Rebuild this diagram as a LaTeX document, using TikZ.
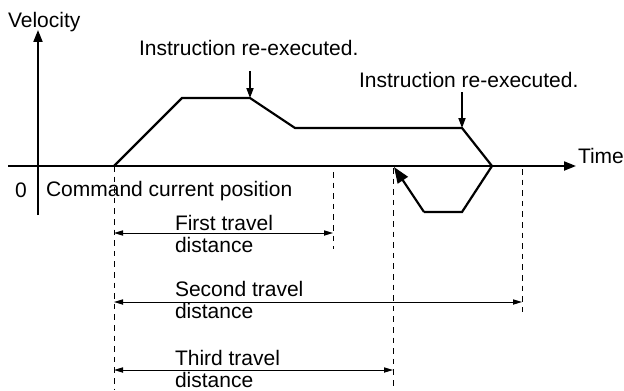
\documentclass[tikz,border=0pt]{standalone}
\usepackage{fontspec}
\setmainfont{Liberation Sans}
\usetikzlibrary{arrows.meta}
\begin{document}
\begin{tikzpicture}[x=0.5pt,y=-0.5pt,
  lbl/.style={inner sep=0pt,outer sep=0pt,anchor=base west,align=left,
    font=\fontsize{10.5}{10.65}\selectfont},
  axis/.style={line width=1pt,-{Triangle[length=6pt,width=4.5pt]}},
  curve/.style={line width=1.1pt,line join=miter},
  guide/.style={line width=0.5pt,dash pattern=on 2.8pt off 2.5pt},
  dim/.style={line width=0.5pt,{Triangle[length=4.5pt,width=2.6pt]}-{Triangle[length=4.5pt,width=2.6pt]}},
  insarrow/.style={line width=0.6pt,-{Triangle[length=5pt,width=3.6pt]}}]
\useasboundingbox (0,0) rectangle (624,390);
% axes
\coordinate (vb) at (38,215);
\coordinate (vt) at (38,30);
\coordinate (tl) at (8,166);
\coordinate (tr) at (576,166);
\draw[axis] (vb) -- (vt);
\draw[axis] (tl) -- (tr);
\node[lbl] (vel) at (8,28) {Velocity};
\node[lbl] (time) at (578,163) {Time};
\node[lbl] (zero) at (15,197) {0};
\node[lbl] (cmd) at (46,196) {Command current position};
% velocity curve
\coordinate (p0) at (114,166);
\coordinate (p1) at (182,98);
\coordinate (p2) at (250,98);
\coordinate (p3) at (295,128);
\coordinate (p4) at (462,128);
\coordinate (p5) at (492,166);
\coordinate (p6) at (462,212);
\coordinate (p7) at (424,212);
\coordinate (p8) at (394,167);
\draw[curve] (p0) -- (p1) -- (p2) -- (p3) -- (p4) -- (p5) -- (p6) -- (p7);
\draw[curve,-{Triangle[length=8pt,width=6pt]}] (p7) -- (p8);
% instruction markers
\node[lbl] (ins1) at (139,56) {Instruction re-executed.};
\node[lbl] (ins2) at (359,87) {Instruction re-executed.};
\coordinate (a1) at (250,71);
\coordinate (a2) at (462,92);
\draw[insarrow] (a1) -- (p2);
\draw[insarrow] (a2) -- (p4);
% guide lines
\coordinate (g0b) at (114,390);
\coordinate (g1t) at (333,172);
\coordinate (g1b) at (333,249);
\coordinate (g3t) at (393,168);
\coordinate (g3b) at (393,390);
\coordinate (g2t) at (522,169);
\coordinate (g2b) at (522,317);
\draw[guide] (p0) -- (g0b);
\draw[guide] (g1t) -- (g1b);
\draw[guide] (g3t) -- (g3b);
\draw[guide] (g2t) -- (g2b);
% dimension arrows
\coordinate (d1l) at (114,233);
\coordinate (d1r) at (333,233);
\coordinate (d2l) at (114,302);
\coordinate (d2r) at (522,302);
\coordinate (d3l) at (114,370);
\coordinate (d3r) at (393,370);
\draw[dim] (d1l) -- (d1r);
\draw[dim] (d2l) -- (d2r);
\draw[dim] (d3l) -- (d3r);
\node[lbl] (t1) at (175,252) {First travel\\distance};
\node[lbl] (t2) at (175,318) {Second travel\\distance};
\node[lbl] (t3) at (175,387) {Third travel\\distance};
\end{tikzpicture}
\end{document}
